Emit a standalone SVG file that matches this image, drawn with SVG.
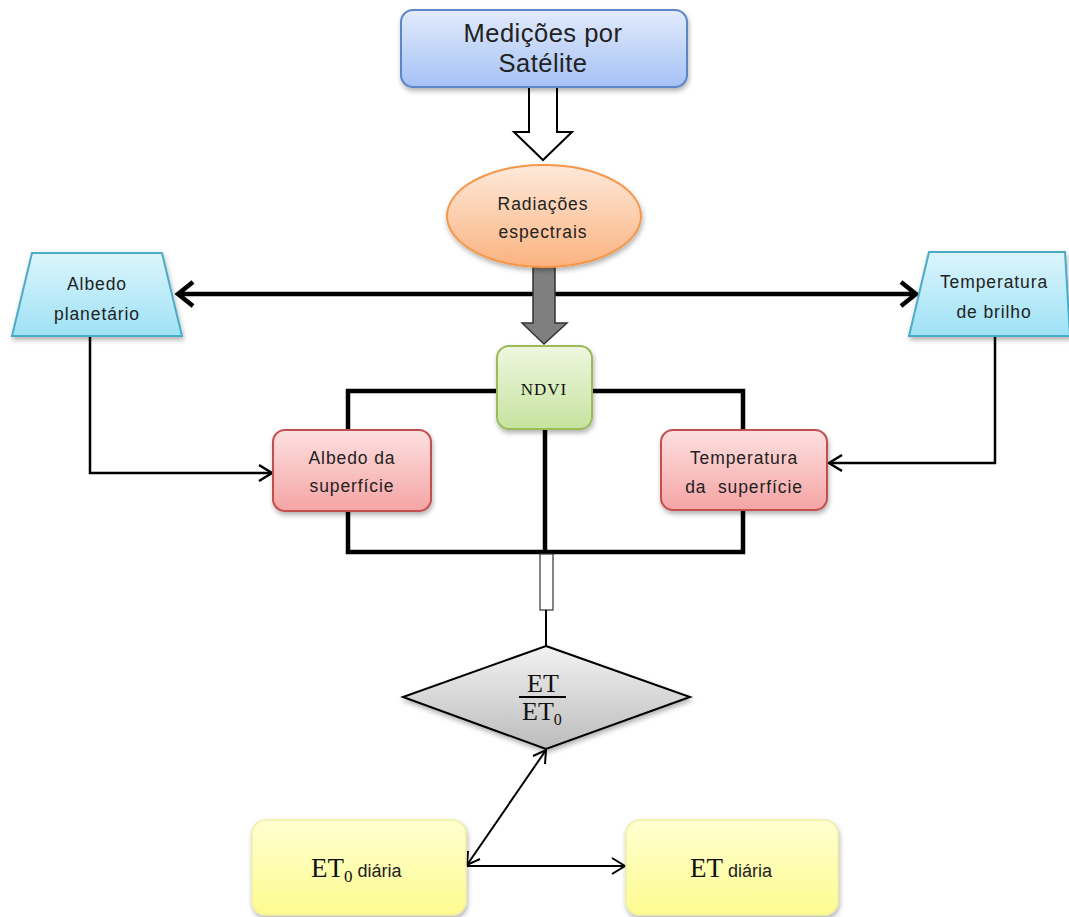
<svg xmlns="http://www.w3.org/2000/svg" width="1069" height="917" viewBox="0 0 1069 917">
<style>
.sans{font-family:"Liberation Sans",Arial,sans-serif;fill:#222;text-anchor:middle}
.lbl{font-size:17.5px;letter-spacing:0.9px}
.serif{font-family:"Liberation Serif","Times New Roman",serif;fill:#111}
.thick{fill:none;stroke:#000;stroke-width:4.5}
.thin{fill:none;stroke:#000;stroke-width:2.5}
</style>
<defs>
<linearGradient id="gBlue" x1="0" y1="0" x2="0" y2="1"><stop offset="0" stop-color="#e2ebfc"/><stop offset="1" stop-color="#a5c1f4"/></linearGradient>
<linearGradient id="gOrange" x1="0" y1="0" x2="0" y2="1"><stop offset="0" stop-color="#fde9da"/><stop offset="1" stop-color="#fbb37f"/></linearGradient>
<linearGradient id="gCyan" x1="0" y1="0" x2="0" y2="1"><stop offset="0" stop-color="#dcf5fc"/><stop offset="1" stop-color="#9ee1f5"/></linearGradient>
<linearGradient id="gGreen" x1="0" y1="0" x2="0" y2="1"><stop offset="0" stop-color="#eef7e0"/><stop offset="1" stop-color="#c6e39f"/></linearGradient>
<linearGradient id="gRed" x1="0" y1="0" x2="0" y2="1"><stop offset="0" stop-color="#fde0e0"/><stop offset="1" stop-color="#f5a4a4"/></linearGradient>
<linearGradient id="gGray" x1="0" y1="0" x2="0" y2="1"><stop offset="0" stop-color="#f2f2f2"/><stop offset="1" stop-color="#bcbcbc"/></linearGradient>
<linearGradient id="gYellow" x1="0" y1="0" x2="0" y2="1"><stop offset="0" stop-color="#ffffd2"/><stop offset="1" stop-color="#fdfb8f"/></linearGradient>
<filter id="sh" x="-10%" y="-10%" width="125%" height="130%"><feDropShadow dx="1" dy="3" stdDeviation="2.5" flood-color="#000" flood-opacity="0.3"/></filter>
</defs>

<g id="connectors">
  <path d="M529,87 V132 H514 L543,160 L572,132 H557 V87" fill="#fff" stroke="#000" stroke-width="2"/>
  <path class="thick" d="M178,294 H916"/>
  <path class="thick" d="M193,282 L178,294 L193,306"/>
  <path class="thick" d="M901,282 L916,294 L901,306"/>
  <path d="M533,266 V323 H522 L544,344 L567,323 H555 V266 Z" fill="#7f7f7f" stroke="#333" stroke-width="1.5"/>
  <path class="thick" d="M497,391 H348 V431"/>
  <path class="thick" d="M592,391 H743 V431"/>
  <path class="thick" d="M348,511 V552 H743 V510"/>
  <path class="thick" d="M545,429 V552"/>
  <path class="thin" d="M90,336 V473 H271"/>
  <path class="thin" d="M259,465 L272,473 L259,481"/>
  <path class="thin" d="M995,336 V463 H830"/>
  <path class="thin" d="M842,455 L829,463 L842,471"/>
  <rect x="540" y="554" width="13" height="56" fill="#fff" stroke="#333" stroke-width="1.2"/>
  <path d="M546,610 V646" stroke="#000" stroke-width="2"/>
  <path d="M546,750 L467,865" fill="none" stroke="#000" stroke-width="2"/>
  <path d="M533,756 L546,750 L545,764" fill="none" stroke="#000" stroke-width="2"/>
  <path d="M468,851 L467,865 L480,859" fill="none" stroke="#000" stroke-width="2"/>
  <path d="M467,866 H624" fill="none" stroke="#000" stroke-width="2"/>
  <path d="M612,858 L625,866 L612,874" fill="none" stroke="#000" stroke-width="2"/>
</g>

<g id="satelite">
  <rect x="401" y="10" width="286" height="77" rx="12" fill="url(#gBlue)" stroke="#5b86c6" stroke-width="2" filter="url(#sh)"/>
  <text class="sans" x="543" y="42" font-size="25.5" letter-spacing="0.5">Medições por</text>
  <text class="sans" x="543" y="72" font-size="25.5" letter-spacing="0.5">Satélite</text>
</g>

<g id="radiacoes">
  <ellipse cx="544" cy="216" rx="97" ry="51" fill="url(#gOrange)" stroke="#f79646" stroke-width="2" filter="url(#sh)"/>
  <text class="sans lbl" x="543" y="210">Radiações</text>
  <text class="sans lbl" x="543" y="238">espectrais</text>
</g>

<g id="albedo_planetario">
  <path d="M32,253 H162 L182,336 H12 Z" fill="url(#gCyan)" stroke="#4bacc6" stroke-width="2" filter="url(#sh)"/>
  <text class="sans lbl" x="97" y="290">Albedo</text>
  <text class="sans lbl" x="97" y="320">planetário</text>
</g>

<g id="temperatura_brilho">
  <path d="M929,252 H1065 L1070,336 H909 Z" fill="url(#gCyan)" stroke="#4bacc6" stroke-width="2" filter="url(#sh)"/>
  <text class="sans lbl" x="994" y="288">Temperatura</text>
  <text class="sans lbl" x="994" y="318">de brilho</text>
</g>

<g id="ndvi">
  <rect x="497" y="346" width="95" height="83" rx="12" fill="url(#gGreen)" stroke="#9bbb59" stroke-width="2" filter="url(#sh)"/>
  <text class="serif" x="544" y="395" font-size="17" letter-spacing="1" text-anchor="middle">NDVI</text>
</g>

<g id="albedo_superficie">
  <rect x="273" y="430" width="158" height="81" rx="12" fill="url(#gRed)" stroke="#c0504d" stroke-width="2" filter="url(#sh)"/>
  <text class="sans lbl" x="352" y="464">Albedo da</text>
  <text class="sans lbl" x="352" y="492">superfície</text>
</g>

<g id="temperatura_superficie">
  <rect x="661" y="430" width="166" height="80" rx="12" fill="url(#gRed)" stroke="#c0504d" stroke-width="2" filter="url(#sh)"/>
  <text class="sans lbl" x="744" y="464">Temperatura</text>
  <text class="sans lbl" x="744" y="493" xml:space="preserve">da  superfície</text>
</g>

<g id="razao">
  <path d="M546,646 L690,697 L546,749 L403,697 Z" fill="url(#gGray)" stroke="#000" stroke-width="2" filter="url(#sh)"/>
  <text class="serif" x="543" y="692" font-size="26" text-anchor="middle">ET</text>
  <path d="M519,697 H566" stroke="#000" stroke-width="1.8"/>
  <text class="serif" x="522" y="720" font-size="26">ET<tspan font-size="16" dy="5">0</tspan></text>
</g>

<g id="et0_diaria">
  <rect x="252" y="820" width="214" height="95" rx="14" fill="url(#gYellow)" stroke="#f0f0a0" stroke-width="1.5" filter="url(#sh)"/>
  <text x="311" y="877" font-size="27" class="serif">ET<tspan font-size="17" dy="5">0</tspan><tspan dy="-5" font-family="Liberation Sans, Arial, sans-serif" font-size="18" fill="#222"> diária</tspan></text>
</g>

<g id="et_diaria">
  <rect x="626" y="820" width="212" height="95" rx="14" fill="url(#gYellow)" stroke="#f0f0a0" stroke-width="1.5" filter="url(#sh)"/>
  <text x="690" y="877" font-size="27" class="serif">ET<tspan font-family="Liberation Sans, Arial, sans-serif" font-size="18" fill="#222"> diária</tspan></text>
</g>
</svg>
